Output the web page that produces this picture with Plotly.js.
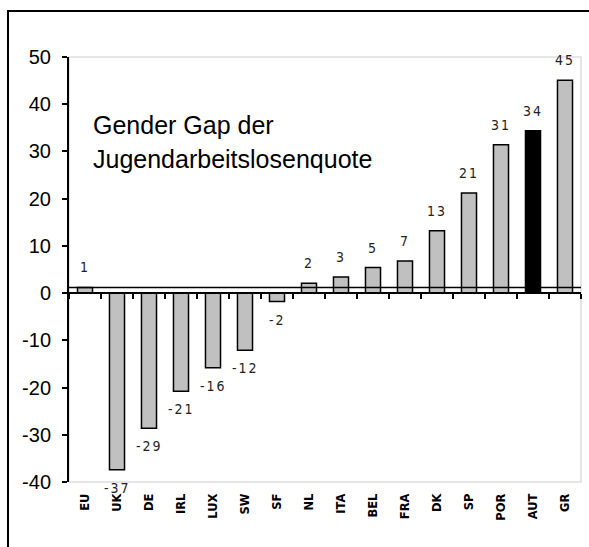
<!DOCTYPE html>
<html>
<head>
<meta charset="utf-8">
<script src="https://cdn.plot.ly/plotly-3.0.1.min.js"></script>
<style>
  html, body { margin: 0; padding: 0; overflow: hidden; background: #fff; }
  #chart { position: absolute; left: 0; top: 0; width: 589px; height: 547px; }
  #frame { position: absolute; left: 7px; top: 10px; width: 700px; height: 700px;
           border: 2px solid #000; pointer-events: none; }
  .valuelabel { letter-spacing: 2px; }
</style>
</head>
<body>
<div id="chart"></div>
<div id="frame"></div>
<script>
// ---- data ----
const countries = ["EU","UK","DE","IRL","LUX","SW","SF","NL","ITA","BEL","FRA","DK","SP","POR","AUT","GR"];
const gapValues = [1.2, -37.4, -28.6, -20.8, -15.8, -12.1, -1.8, 2.1, 3.4, 5.4, 6.8, 13.2, 21.2, 31.4, 34.4, 45.1];
const gapLabels = ["1","-37","-29","-21","-16","-12","-2","2","3","5","7","13","21","31","34","45"];
const highlight = "AUT";
const yTickVals = [-40, -30, -20, -10, 0, 10, 20, 30, 40, 50];
const yTickText = ["-40", "-30", "-20", "-10", "0", "10", "20", "30", "40", "50"];
const yMin = -40, yMax = 50;
const titleLines = ["Gender Gap der", "Jugendarbeitslosenquote"];

const barColors = countries.map(c => c === highlight ? "#000000" : "#c0c0c0");

const labelFont = { family: "Liberation Sans Narrow, DejaVu Sans Condensed, Arial Narrow, Liberation Sans, sans-serif", size: 14, color: "#222" };

const labelAnnotations = countries.map((c, i) => ({
  x: c, y: gapValues[i], xref: "x", yref: "y",
  text: gapLabels[i], showarrow: false,
  yanchor: gapValues[i] >= 0 ? "bottom" : "top",
  yshift: gapValues[i] >= 0 ? 10 : -8,
  font: labelFont
}));

const titleAnnotations = titleLines.map((t, i) => ({
  x: 0.043, y: i === 0 ? 0.84 : 0.759, xref: "paper", yref: "paper",
  xanchor: "left", yanchor: "middle", showarrow: false, text: t,
  font: { family: "Liberation Sans, Arial, sans-serif", size: 25, color: "#000" }
}));

const traces = [
  {
    type: "bar", x: countries, y: gapValues,
    marker: { color: barColors, line: { color: "#000", width: 1.5 } },
    hoverinfo: "skip", showlegend: false, cliponaxis: false
  },
  { type: "scatter", x: [], y: [], xaxis: "x2", yaxis: "y", showlegend: false, hoverinfo: "skip" }
];

const layout = {
  width: 589, height: 547,
  margin: { l: 69, r: 8, t: 57, b: 65 },
  paper_bgcolor: "#fff", plot_bgcolor: "#fff",
  bargap: 0.53,
  showlegend: false,
  font: { family: "Liberation Sans, Arial, sans-serif", color: "#000" },
  xaxis: {
    type: "category", range: [-0.5, countries.length - 0.5],
    showline: false, showgrid: false, zeroline: false,
    tickangle: -90, ticks: "outside", ticklen: 6, tickcolor: "rgba(0,0,0,0)",
    tickfont: { family: "DejaVu Sans, Liberation Sans, sans-serif", size: 11.5, color: "#000", weight: "bold" }
  },
  xaxis2: {
    type: "linear", overlaying: "x", anchor: "free",
    position: (0 - yMin) / (yMax - yMin),
    range: [-0.5, countries.length - 0.5],
    tickmode: "linear", tick0: -0.5, dtick: 1,
    ticks: "outside", ticklen: 5, tickwidth: 2, tickcolor: "#000",
    showline: true, linecolor: "#000", linewidth: 2,
    showticklabels: false, showgrid: false, zeroline: false
  },
  yaxis: {
    range: [yMin, yMax], tickmode: "array", tickvals: yTickVals, ticktext: yTickText,
    showgrid: false, zeroline: false,
    showline: true, linecolor: "#000", linewidth: 2,
    ticks: "outside", ticklen: 5, tickwidth: 2, tickcolor: "#000",
    ticklabelstandoff: 7,
    tickfont: { family: "Liberation Sans, Arial, sans-serif", size: 20, color: "#000" }
  },
  shapes: [
    { type: "rect", xref: "paper", yref: "paper", x0: 0, x1: 1, y0: 0, y1: 1,
      line: { color: "#dddddd", width: 1.5 }, layer: "below" },
    { type: "line", xref: "paper", yref: "y", x0: 0, x1: 1, y0: gapValues[0], y1: gapValues[0],
      line: { color: "#000", width: 1.5 }, layer: "above" }
  ],
  annotations: titleAnnotations.concat(labelAnnotations)
};

Plotly.newPlot("chart", traces, layout, { displayModeBar: false, staticPlot: true }).then(gd => {
  const texts = gd.querySelectorAll(".annotation-text");
  texts.forEach(t => { if (gapLabels.includes(t.textContent)) t.classList.add("valuelabel"); });
});
</script>
</body>
</html>
